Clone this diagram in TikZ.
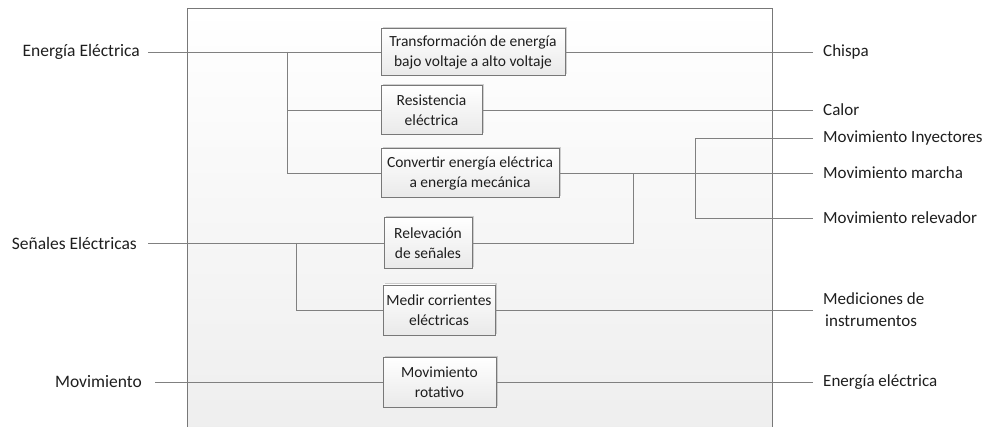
\documentclass[tikz,border=0pt]{standalone}
\usepackage{fontspec}
\setmainfont{Carlito}
\usetikzlibrary{shadows}
\definecolor{lineg}{RGB}{128,128,128}
\definecolor{boxd}{RGB}{120,120,120}
\definecolor{txt}{RGB}{30,30,30}
\begin{document}
\begin{tikzpicture}[x=1pt,y=-1pt,
  conn/.style={draw=lineg, line width=0.9pt},
  procbox/.style={rectangle, draw=boxd, line width=0.8pt, top color=white, bottom color=gray!17,
     align=center, inner sep=1pt, text=txt, font=\fontsize{15.5}{20}\selectfont,
     drop shadow={shadow xshift=1.5pt, shadow yshift=1.5pt, opacity=0.35, fill=gray}},
  leftlab/.style={anchor=east, inner xsep=8pt, inner ysep=0pt, text=txt, font=\fontsize{17.5}{22}\selectfont},
  rightlab/.style={anchor=west, inner xsep=10pt, inner ysep=0pt, align=left, text=txt, font=\fontsize{17}{22}\selectfont}]
\useasboundingbox (0,0) rectangle (995,427);
% frame
\shade[top color=white, bottom color=gray!13] (187,8) rectangle (772,427);
\draw[draw=boxd, line width=0.9pt] (187,430) -- (187,8) -- (772,8) -- (772,430);
% boxes
\node[procbox, minimum width=184, minimum height=47] (b1) at (473,52) {Transformación de energía\\bajo voltaje a alto voltaje};
\node[procbox, minimum width=101, minimum height=49] (b2) at (431.5,110) {Resistencia\\eléctrica};
\node[procbox, minimum width=178, minimum height=49] (b3) at (470,173) {Convertir energía eléctrica\\a energía mecánica};
\node[procbox, minimum width=88, minimum height=51] (b4) at (428,243) {Relevación\\de señales};
\node[procbox, minimum width=112, minimum height=50] (b5) at (439,310) {Medir corrientes\\eléctricas};
\node[procbox, minimum width=113, minimum height=50] (b6) at (439.5,382) {Movimiento\\rotativo};
% left labels
\node[leftlab] (lE) at (148,52) {Energía Eléctrica};
\node[leftlab, inner xsep=11pt] (lS) at (148,243) {Señales Eléctricas};
\node[leftlab, inner xsep=13pt] (lM) at (155,382) {Movimiento};
% right labels
\node[rightlab] (rC) at (813,52) {Chispa};
\node[rightlab] (rK) at (813,110) {Calor};
\node[rightlab] (rI) at (813,138) {Movimiento Inyectores};
\node[rightlab] (rMa) at (813,173) {Movimiento marcha};
\node[rightlab] (rR) at (813,218) {Movimiento relevador};
\node[rightlab] (rMe) at (813,310) {Mediciones de\\\hspace*{2pt}instrumentos};
\node[rightlab] (rE) at (813,382) {Energía eléctrica};
% junctions
\coordinate (j1) at (287,52);
\coordinate (j2) at (296,243);
\coordinate (j3) at (633,173);
\coordinate (j4) at (695,138);
% connectors
\draw[conn] (lE.east) -- (b1.west);
\draw[conn] (j1) |- (b2.west);
\draw[conn] (j1) |- (b3.west);
\draw[conn] (lS.east) -- (b4.west);
\draw[conn] (j2) |- (b5.west);
\draw[conn] (lM.east) -- (b6.west);
\draw[conn] (b1.east) -- (rC.west);
\draw[conn] (b2.east) -- (rK.west);
\draw[conn] (b3.east) -- (rMa.west);
\draw[conn] (b4.east) -| (j3);
\draw[conn] (rI.west) -- (j4) |- (rR.west);
\draw[conn] (b5.east) -- (rMe.west);
\draw[conn] (b6.east) -- (rE.west);
\end{tikzpicture}
\end{document}
